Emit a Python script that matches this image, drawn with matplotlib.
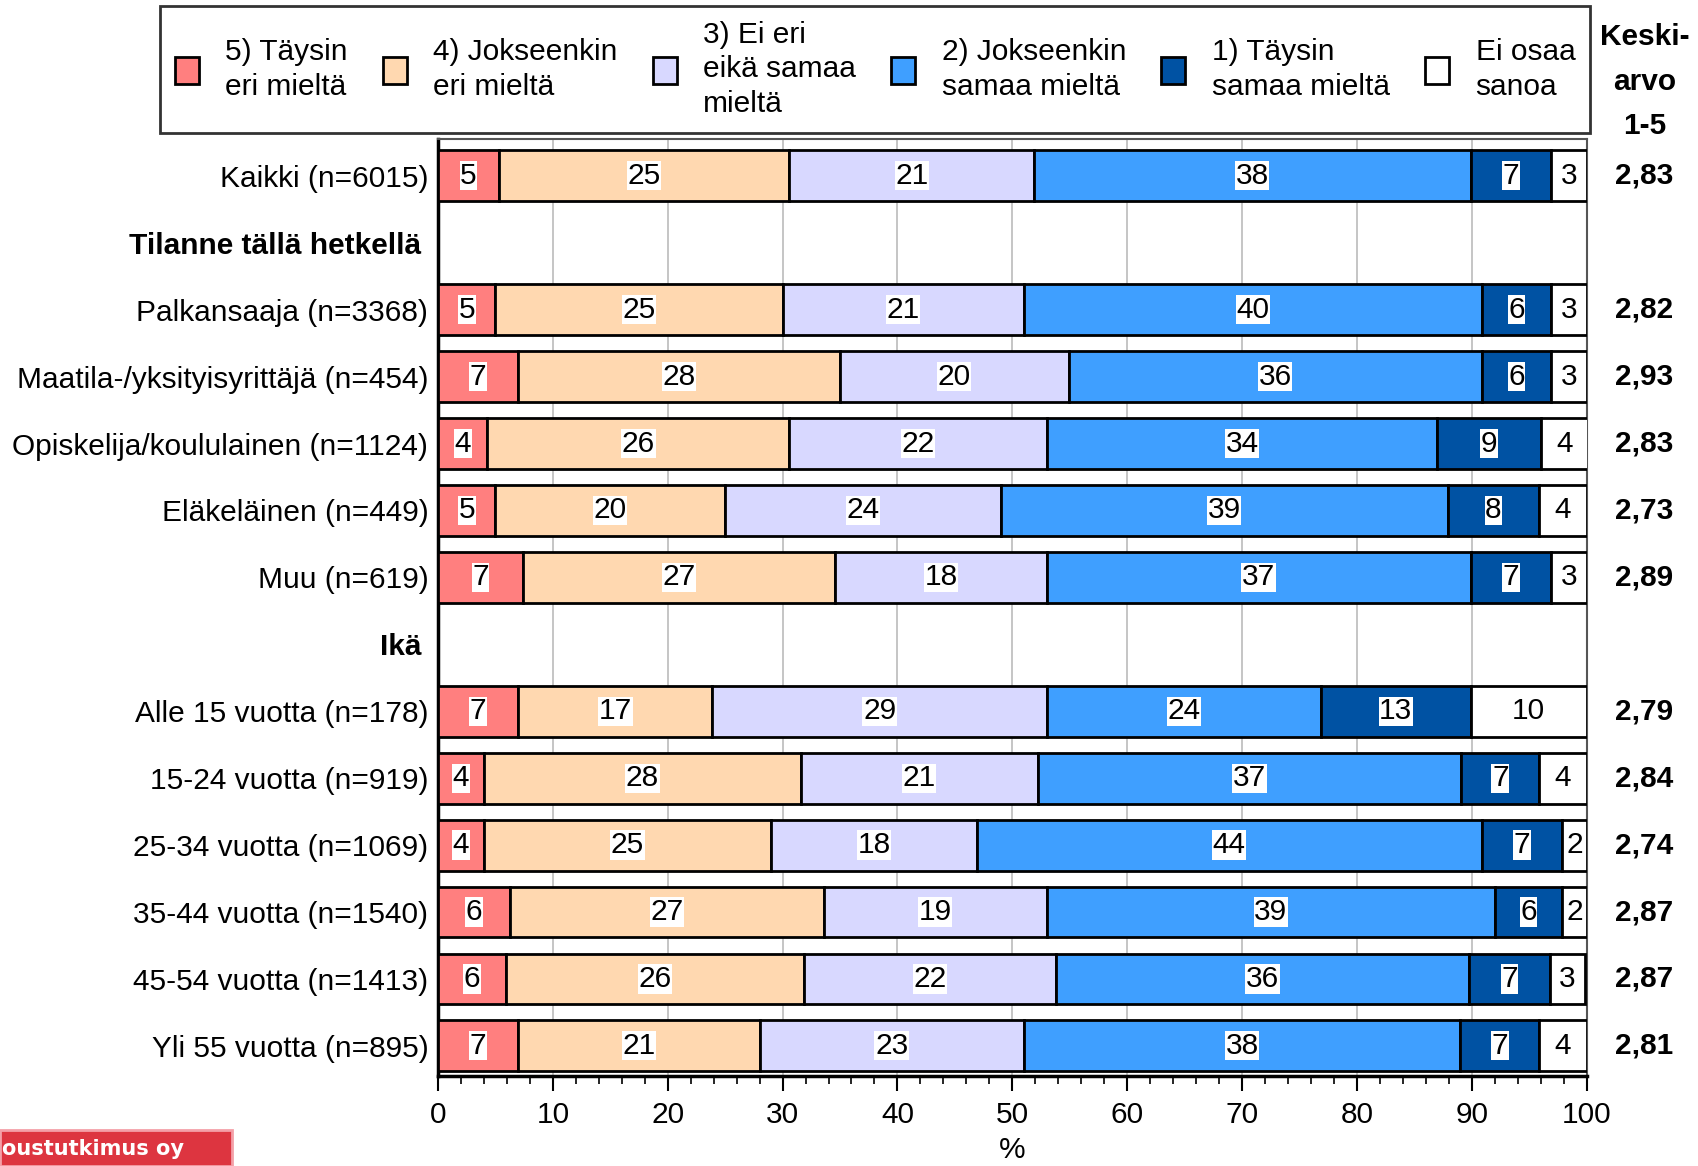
import matplotlib.pyplot as plt
from matplotlib.ticker import MultipleLocator
import numpy as np

plt.rcParams['font.family'] = ['Liberation Sans', 'DejaVu Sans']

# rows of the chart, two of them are group headers
rows = ['Kaikki (n=6015)', 'Tilanne tällä hetkellä', 'Palkansaaja (n=3368)',
        'Maatila-/yksityisyrittäjä (n=454)', 'Opiskelija/koululainen (n=1124)',
        'Eläkeläinen (n=449)', 'Muu (n=619)', 'Ikä', 'Alle 15 vuotta (n=178)',
        '15-24 vuotta (n=919)', '25-34 vuotta (n=1069)', '35-44 vuotta (n=1540)',
        '45-54 vuotta (n=1413)', 'Yli 55 vuotta (n=895)']
headers = ['Tilanne tällä hetkellä', 'Ikä']

series = ['5) Täysin\neri mieltä', '4) Jokseenkin\neri mieltä', '3) Ei eri\neikä samaa\nmieltä',
          '2) Jokseenkin\nsamaa mieltä', '1) Täysin\nsamaa mieltä', 'Ei osaa\nsanoa']
colors = ['#FF7F7F', '#FFD8B0', '#D8D8FF', '#3F9FFF', '#0052A3', '#FFFFFF']

# shares (%) per row in series order; header rows are None
shares = [
    [5.3, 25.3, 21.3, 38.0, 7.0, 3.1],
    None,
    [5.0, 25.0, 21.0, 39.9, 6.0, 3.1],
    [7.0, 28.0, 19.9, 36.0, 6.0, 3.1],
    [4.3, 26.3, 22.4, 34.0, 9.0, 4.1],
    [5.0, 20.0, 24.0, 38.9, 8.0, 4.1],
    [7.4, 27.2, 18.4, 36.9, 7.0, 3.1],
    None,
    [7.0, 16.9, 29.1, 23.9, 13.0, 10.1],
    [4.0, 27.6, 20.6, 36.9, 6.8, 4.1],
    [4.0, 25.0, 17.9, 44.0, 7.0, 2.1],
    [6.3, 27.3, 19.4, 39.0, 5.9, 2.1],
    [5.9, 26.0, 21.9, 36.0, 7.0, 3.1],
    [7.0, 21.0, 23.0, 38.0, 6.9, 4.1],
]
means = ['2,83', None, '2,82', '2,93', '2,83', '2,73', '2,89', None,
         '2,79', '2,84', '2,74', '2,87', '2,87', '2,81']

fig = plt.figure(figsize=(16.99, 11.66), dpi=100)
ax = fig.add_axes([0.2578, 0.0772, 0.676, 0.8036])

fs = 21.5
y = np.arange(len(rows))
for i, vals in enumerate(shares):
    if vals is None:
        continue
    left = 0
    for j, v in enumerate(vals):
        ax.barh(i, v, left=left, height=0.76, color=colors[j], edgecolor='black',
                linewidth=2, label=series[j] if i == 0 else None, zorder=3)
        bb = None if j == 5 else dict(facecolor='white', edgecolor='none', pad=0.5)
        ax.text(left + v / 2, i, str(int(round(v))), ha='center', va='center',
                fontsize=fs, bbox=bb, zorder=4)
        left += v
    # mean value column on the right
    ax.text(1.05, i, means[i], transform=ax.get_yaxis_transform(), ha='center',
            va='center', fontsize=fs, fontweight='bold')

ax.set_xlim(0, 100)
ax.set_ylim(13.45, -0.55)
ax.set_xticks(range(0, 101, 10))
ax.xaxis.set_minor_locator(MultipleLocator(2))
ax.tick_params(axis='x', which='major', labelsize=fs, length=11, width=1.5, pad=7)
ax.tick_params(axis='x', which='minor', length=6, width=1.2)
ax.set_yticks(y)
ax.set_yticklabels(rows, fontsize=fs)
ax.tick_params(axis='y', length=0, pad=7)
for lab in ax.get_yticklabels():
    if lab.get_text() in headers:
        lab.set_fontweight('bold')
        lab.set_x(-0.006)
ax.set_xlabel('%', fontsize=fs, labelpad=5)
ax.grid(axis='x', color='#bbbbbb', linewidth=1.2, zorder=0)
for s in ax.spines.values():
    s.set_color('#555555')
    s.set_linewidth(1.5)
for side in ['left', 'bottom']:
    ax.spines[side].set_color('black')
    ax.spines[side].set_linewidth(2.5)

leg = fig.legend(loc='lower left', ncol=6, mode='expand', fontsize=fs,
                 bbox_to_anchor=(0.094, 0.886, 0.842, 0.108), frameon=True,
                 fancybox=False, edgecolor='black', handlelength=0.8,
                 handleheight=1.0, handletextpad=0.9, borderaxespad=0,
                 labelspacing=0.2, borderpad=0.5)
leg.get_frame().set_linewidth(2)
for t in leg.get_texts():
    t.set_linespacing(1.3)

fig.text(0.968, 0.930, 'Keski-\narvo\n1-5', ha='center', va='center', fontsize=fs,
         fontweight='bold', linespacing=1.75)

# logo strip bottom-left (only the visible part of the name)
fig.patches.append(plt.Rectangle((0, 0), 232 / 1699, 36 / 1166, transform=fig.transFigure,
                                 facecolor='#DD3540', edgecolor='#F4A0A8', linewidth=2))
fig.text(2 / 1699, 17 / 1166, 'oustutkimus oy', ha='left', va='center',
         color='white', fontsize=15, fontweight='bold', family='DejaVu Sans')

fig.savefig('out.png', dpi=100)
